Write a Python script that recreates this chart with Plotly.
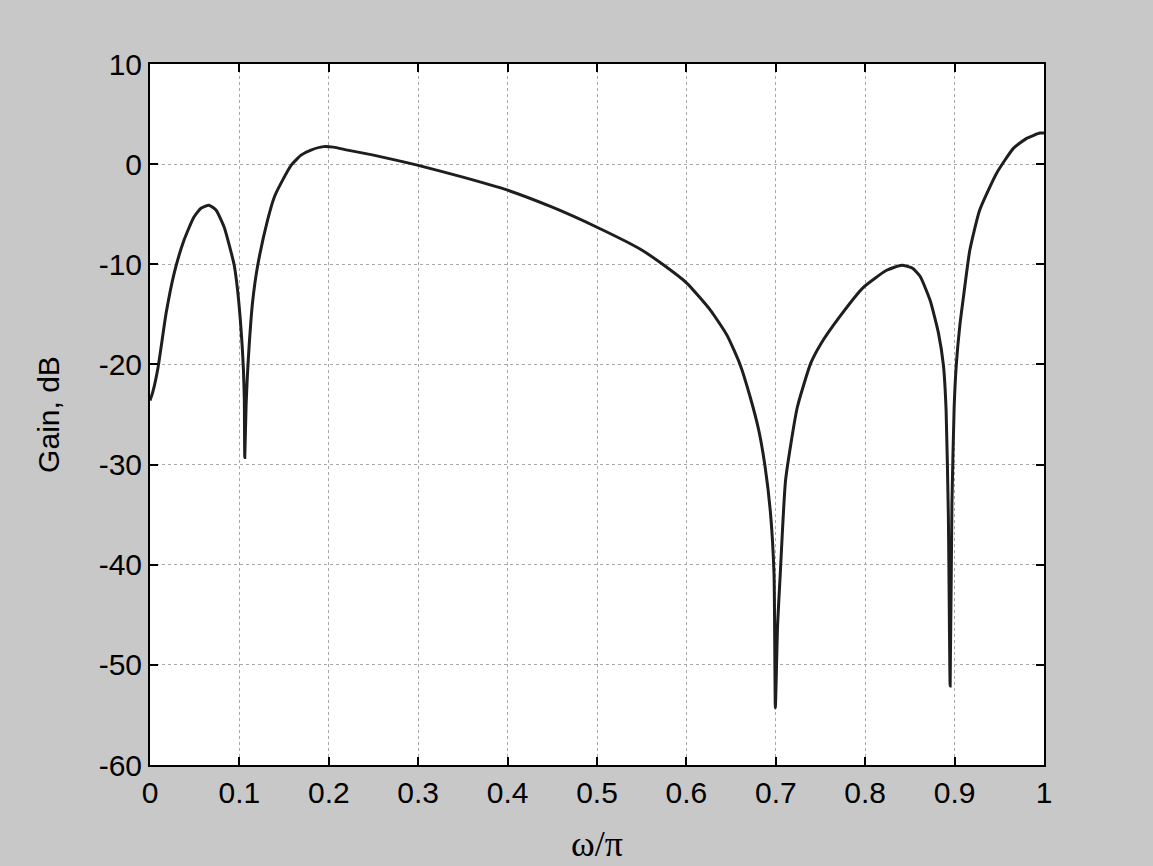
import plotly.graph_objects as go

omega = [0, 0.003, 0.009, 0.018, 0.027, 0.038, 0.049, 0.057, 0.066, 0.074, 0.083, 0.089,
         0.0942, 0.098, 0.101, 0.103, 0.1045, 0.1055, 0.106, 0.1075, 0.109, 0.111, 0.1147,
         0.1203, 0.1315, 0.139, 0.146, 0.158, 0.169, 0.18, 0.194, 0.205, 0.221, 0.25, 0.275,
         0.299, 0.35, 0.4, 0.45, 0.5, 0.5486, 0.5765, 0.6007, 0.627, 0.6455, 0.660, 0.6715,
         0.681, 0.688, 0.694, 0.698, 0.6995, 0.702, 0.705, 0.711, 0.724, 0.739, 0.75,
         0.7709, 0.798, 0.824, 0.841, 0.853, 0.8614, 0.8726, 0.882, 0.8875, 0.8905, 0.893,
         0.895, 0.897, 0.8995, 0.902, 0.906, 0.910, 0.917, 0.928, 0.947, 0.966, 0.981,
         0.9955, 1.0]
gain_db = [-23.6, -22.8, -20.3, -14.9, -10.9, -7.6, -5.3, -4.4, -4.1, -4.6, -6.3, -8.2,
           -10.1, -12.6, -15.5, -18.0, -20.5, -23.5, -29.3, -24.0, -21.0, -18.0, -13.8,
           -10.2, -5.6, -3.3, -2.0, -0.1, 0.9, 1.4, 1.75, 1.7, 1.4, 0.9, 0.4,
           -0.1, -1.3, -2.6, -4.3, -6.3, -8.5, -10.2, -11.9, -14.6, -17.1, -20.0, -23.3,
           -26.6, -30.2, -34.8, -40.9, -54.3, -46.0, -40.9, -31.5, -24.3, -19.9, -18.0,
           -15.3, -12.3, -10.6, -10.1, -10.4, -11.2, -13.6, -16.9, -20.1, -24.6, -35.0,
           -52.1, -34.0, -24.3, -19.9, -16.0, -13.2, -8.6, -4.6, -0.9, 1.6, 2.6,
           3.1, 3.1]

x_ticks = [0, 0.1, 0.2, 0.3, 0.4, 0.5, 0.6, 0.7, 0.8, 0.9, 1]
x_labels = ["0", "0.1", "0.2", "0.3", "0.4", "0.5", "0.6", "0.7", "0.8", "0.9", "1"]
y_ticks = [10, 0, -10, -20, -30, -40, -50, -60]
y_labels = ["10", "0", "-10", "-20", "-30", "-40", "-50", "-60"]

SANS = "Liberation Sans, Arial"
SERIF = "Liberation Serif, Times New Roman"

fig = go.Figure()
fig.add_trace(go.Scatter(x=omega, y=gain_db, mode="lines",
                         line=dict(color="#1e1e1e", width=3, shape="spline", smoothing=0.5),
                         showlegend=False))

axis_common = dict(showline=True, linecolor="black", linewidth=2, mirror="ticks",
                   ticks="inside", ticklen=8, tickwidth=2, tickcolor="black",
                   showgrid=True, gridcolor="#a8a8a8", gridwidth=1, griddash="dot",
                   zeroline=False, automargin=False,
                   tickfont=dict(size=30, color="black", family=SANS))

fig.update_xaxes(range=[0, 1], tickvals=x_ticks, ticktext=x_labels,
                 title=dict(text="ω/π", font=dict(size=36, color="black", family=SERIF),
                            standoff=23),
                 **axis_common)
fig.update_yaxes(range=[-60, 10], tickvals=y_ticks, ticktext=y_labels,
                 title=dict(text="Gain, dB", font=dict(size=30, color="black", family=SANS),
                            standoff=30),
                 **axis_common)

fig.update_layout(width=1153, height=866, paper_bgcolor="#c8c8c8", plot_bgcolor="white",
                  margin=dict(l=150, r=109, t=64, b=101), showlegend=False)

fig.write_html("out.html", config={"displayModeBar": False},
               post_script="document.body.style.margin='0';document.body.style.background='#c8c8c8';")
